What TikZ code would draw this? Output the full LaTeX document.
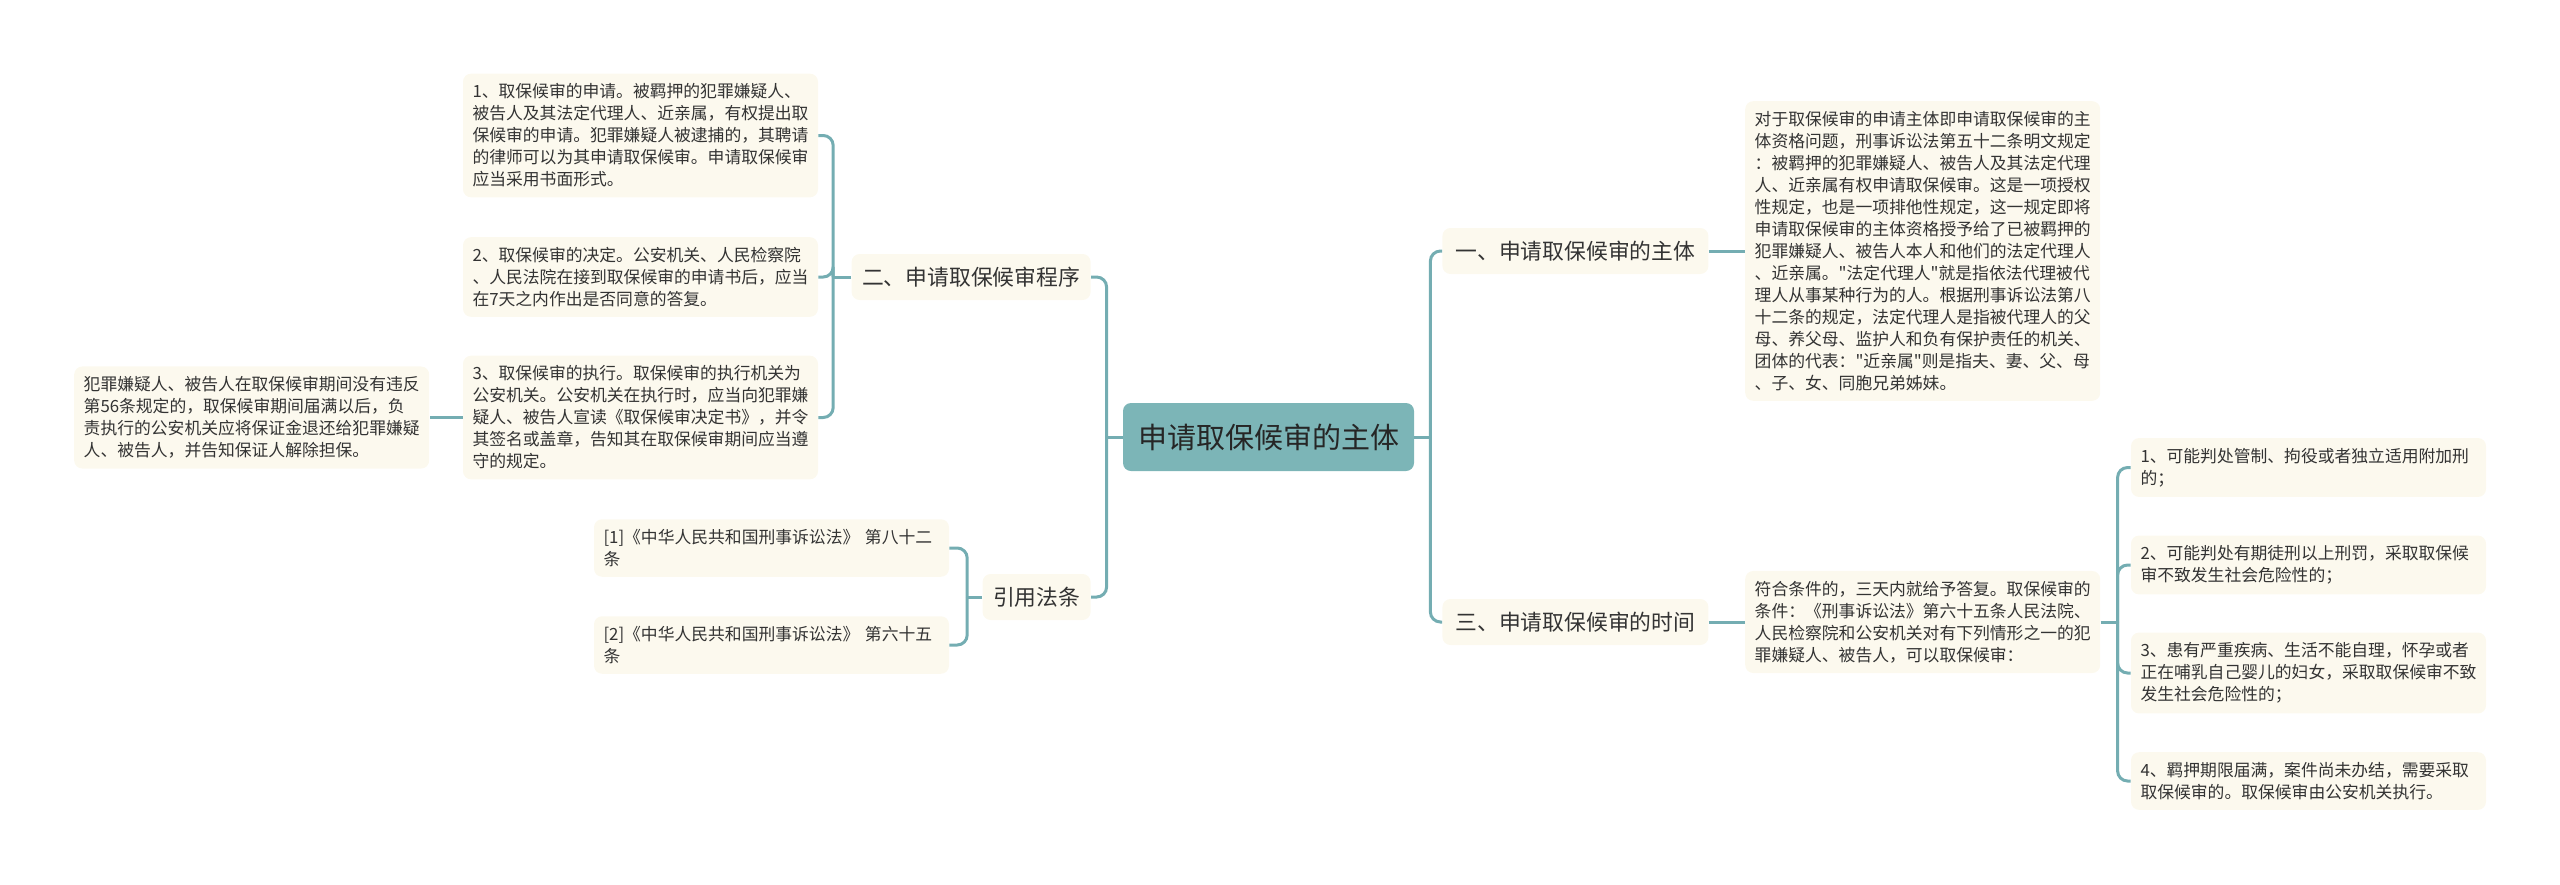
\documentclass[tikz,border=0pt]{standalone}
\usepackage{fontspec}
\setmainfont{Noto Sans CJK SC}
\usetikzlibrary{positioning}
\definecolor{linkc}{RGB}{116,173,178}
\definecolor{rootc}{RGB}{124,181,183}
\definecolor{boxc}{RGB}{252,249,238}
\definecolor{textc}{RGB}{51,51,51}

\begin{document}
\begin{tikzpicture}[x=0.5pt,y=-0.5pt,text=textc,
    link/.style={draw=linkc,line width=1.5pt,rounded corners=5pt},
    topic/.style={fill=rootc,rounded corners=4pt,text=black!85,
        font=\fontsize{14.5}{17}\selectfont,minimum width=145.5pt,minimum height=34pt},
    branch/.style={fill=boxc,rounded corners=4pt,
        font=\fontsize{10.9}{13}\selectfont,minimum height=23pt},
    leaf/.style={fill=boxc,rounded corners=4pt,align=left,text width=168pt,
        inner xsep=4.75pt,inner ysep=5pt,font=\fontsize{8.4}{11}\selectfont}]
    \useasboundingbox (0,0) rectangle (2560,884);

    % centre
    \node[topic] (root) at (1268.5,437) {申请取保候审的主体};

    % right side
    \node[branch,anchor=west,minimum width=133pt] (one) at (1442,251) {一、申请取保候审的主体};
    \node[branch,anchor=west,minimum width=133pt] (three) at (1442,622) {三、申请取保候审的时间};
    \node[leaf,right=18pt of one] (T1) {对于取保候审的申请主体即申请取保候审的主\\
        体资格问题，刑事诉讼法第五十二条明文规定\\
        ：被羁押的犯罪嫌疑人、被告人及其法定代理\\
        人、近亲属有权申请取保候审。这是一项授权\\
        性规定，也是一项排他性规定，这一规定即将\\
        申请取保候审的主体资格授予给了已被羁押的\\
        犯罪嫌疑人、被告人本人和他们的法定代理人\\
        、近亲属。\textquotedbl{}法定代理人\textquotedbl{}就是指依法代理被代\\
        理人从事某种行为的人。根据刑事诉讼法第八\\
        十二条的规定，法定代理人是指被代理人的父\\
        母、养父母、监护人和负有保护责任的机关、\\
        团体的代表：\textquotedbl{}近亲属\textquotedbl{}则是指夫、妻、父、母\\
        、子、女、同胞兄弟姊妹。};
    \node[leaf,right=18pt of three] (T3) {符合条件的，三天内就给予答复。取保候审的\\
        条件：《刑事诉讼法》第六十五条人民法院、\\
        人民检察院和公安机关对有下列情形之一的犯\\
        罪嫌疑人、被告人，可以取保候审：};
    \node[leaf] (C1) at (2308.5,467.5) {1、可能判处管制、拘役或者独立适用附加刑\\的；};
    \node[leaf] (C2) at (2308.5,565) {2、可能判处有期徒刑以上刑罚，采取取保候\\审不致发生社会危险性的；};
    \node[leaf] (C3) at (2308.5,673) {3、患有严重疾病、生活不能自理，怀孕或者\\
        正在哺乳自己婴儿的妇女，采取取保候审不致\\发生社会危险性的；};
    \node[leaf] (C4) at (2308.5,781) {4、羁押期限届满，案件尚未办结，需要采取\\取保候审的。取保候审由公安机关执行。};

    % left side
    \node[branch,anchor=east,minimum width=119.5pt] (two) at (1091,277) {二、申请取保候审程序};
    \node[branch,anchor=east,minimum width=54pt] (cite) at (1091,597) {引用法条};
    \node[leaf] (L1) at (640.5,135.5) {1、取保候审的申请。被羁押的犯罪嫌疑人、\\
        被告人及其法定代理人、近亲属，有权提出取\\
        保候审的申请。犯罪嫌疑人被逮捕的，其聘请\\
        的律师可以为其申请取保候审。申请取保候审\\
        应当采用书面形式。};
    \node[leaf] (L2) at (640.5,277) {2、取保候审的决定。公安机关、人民检察院\\
        、人民法院在接到取保候审的申请书后，应当\\
        在7天之内作出是否同意的答复。};
    \node[leaf] (L3) at (640.5,417.5) {3、取保候审的执行。取保候审的执行机关为\\
        公安机关。公安机关在执行时，应当向犯罪嫌\\
        疑人、被告人宣读《取保候审决定书》，并令\\
        其签名或盖章，告知其在取保候审期间应当遵\\
        守的规定。};
    \node[leaf,left=16.5pt of L3] (L3a) {犯罪嫌疑人、被告人在取保候审期间没有违反\\
        第56条规定的，取保候审期间届满以后，负\\
        责执行的公安机关应将保证金退还给犯罪嫌疑\\
        人、被告人，并告知保证人解除担保。};
    \node[leaf] (R1) at (771.5,548) {[1]《中华人民共和国刑事诉讼法》 第八十二\\条};
    \node[leaf] (R2) at (771.5,645) {[2]《中华人民共和国刑事诉讼法》 第六十五\\条};

    % connectors
    \draw[link] (root.east) -- ++(16,0) coordinate (jr);
    \draw[link] (jr) |- (one.west);
    \draw[link] (jr) |- (three.west);
    \draw[link] (one.east) -- (T1.west);
    \draw[link] (three.east) -- (T3.west);
    \draw[link] (T3.east) -- ++(17,0) coordinate (j3);
    \foreach \c in {C1,C2,C3,C4}
        \draw[link] (j3) |- (\c.west);

    \draw[link] (root.west) -- ++(-16,0) coordinate (jl);
    \draw[link] (jl) |- (two.east);
    \draw[link] (jl) |- (cite.east);
    \draw[link] (two.west) -- ++(-18,0) coordinate (j2);
    \foreach \c in {L1,L2,L3}
        \draw[link] (j2) |- (\c.east);
    \draw[link] (L3.west) -- (L3a.east);
    \draw[link] (cite.west) -- ++(-15,0) coordinate (jc);
    \foreach \c in {R1,R2}
        \draw[link] (jc) |- (\c.east);
\end{tikzpicture}
\end{document}
